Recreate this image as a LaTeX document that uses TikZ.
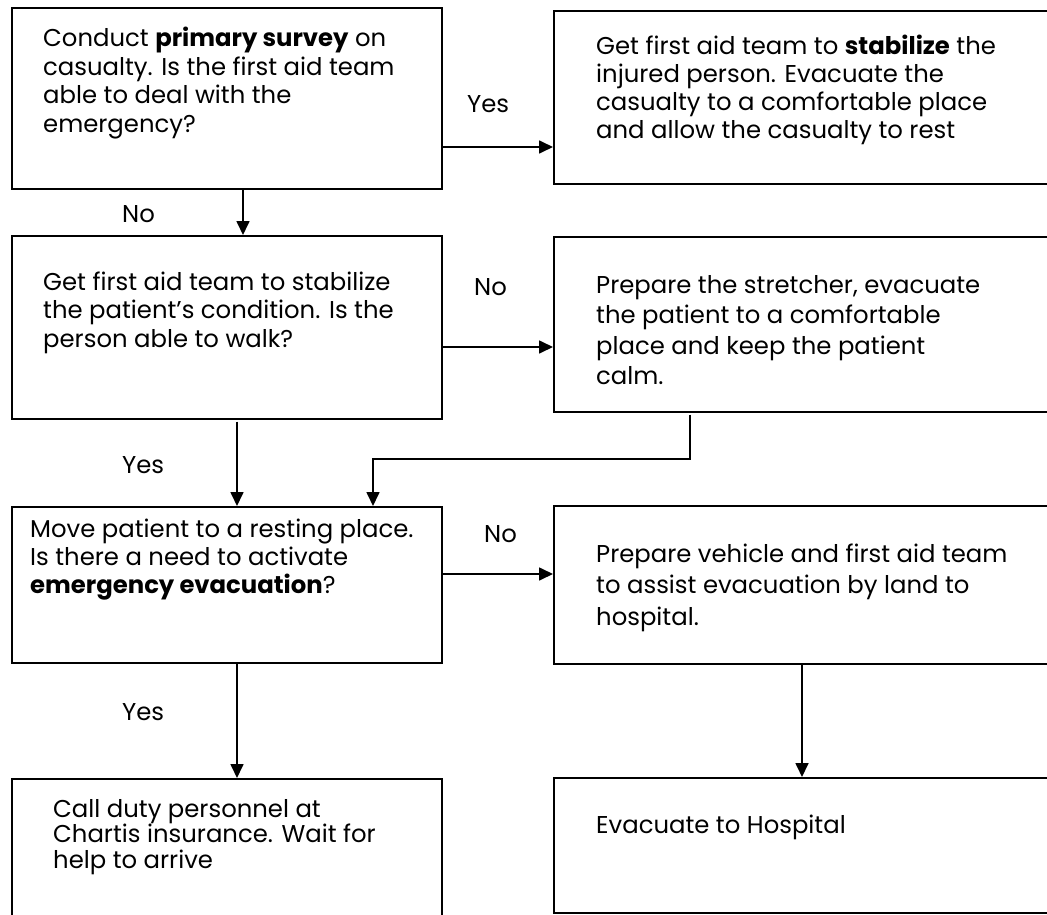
\documentclass[tikz,border=0pt]{standalone}
\usepackage{fontspec}
\setmainfont{Poppins}
\usetikzlibrary{arrows.meta}
\newlength\reflen
\tikzset{
  box/.style={draw=black, line width=1.7pt, anchor=north west, inner sep=0pt, minimum width=#1},
  box/.default=430pt,
  arr/.style={draw=black, line width=1.7pt, -{Triangle[length=14pt,width=13pt]}},
  txt/.style={anchor=base west, inner sep=0pt, align=left, font=\fontsize{\fs}{#1}\selectfont},
  lbl/.style={anchor=base west, inner sep=0pt, font=\fontsize{\fs}{20}\selectfont},
}
\begin{document}
\settowidth\reflen{\fontsize{20}{24}\selectfont Conduct \textbf{primary survey} on}%
\pgfmathsetmacro\fs{20*343/\reflen}%
\begin{tikzpicture}[x=1pt,y=-1pt]
\useasboundingbox (0,0) rectangle (1047,915);
\clip (0,0) rectangle (1047,915);
% boxes
\node[box, minimum height=180.5pt] (b1) at (11,7.5) {};
\node[box=497pt, minimum height=173pt] (b2) at (553,10) {};
\node[box, minimum height=183pt] (b3) at (11,235) {};
\node[box=497pt, minimum height=175pt] (b4) at (553,236) {};
\node[box, minimum height=156pt] (b5) at (11,506) {};
\node[box=497pt, minimum height=158pt] (b6) at (553,505) {};
\node[box, minimum height=160pt] (b7) at (11,778) {};
\node[box=497pt, minimum height=135pt] (b8) at (553,777) {};
% texts (anchored at the baseline of the last line)
\node[txt=28.5pt] (t1) at (43,132.2) {Conduct \textbf{primary survey} on\\casualty. Is the first aid team\\able to deal with the\\emergency?};
\node[txt=27.7pt] (t2) at (596,138.1) {Get first aid team to \textbf{stabilize} the\\injured person. Evacuate the\\casualty to a comfortable place\\and allow the casualty to rest};
\node[txt=28.5pt] (t3) at (43,347) {Get first aid team to stabilize\\the patient’s condition. Is the\\person able to walk?};
\node[txt=30.5pt] (t4) at (596,384.5) {Prepare the stretcher, evacuate\\the patient to a comfortable\\place and keep the patient\\calm.};
\node[txt=28pt] (t5) at (30,593) {Move patient to a resting place.\\Is there a need to activate\\\textbf{emergency evacuation}?};
\node[txt=31.5pt] (t6) at (596,625) {Prepare vehicle and first aid team\\to assist evacuation by land to\\hospital.};
\node[txt=25.5pt] (t7) at (53,868) {Call duty personnel at\\Chartis insurance. Wait for\\help to arrive};
\node[txt=28pt] (t8) at (596,833) {Evacuate to Hospital};
% labels
\node[lbl] (l1) at (467,113) {Yes};
\node[lbl] (l2) at (122,222) {No};
\node[lbl] (l3) at (474,295) {No};
\node[lbl] (l4) at (122,473) {Yes};
\node[lbl] (l5) at (484,542) {No};
\node[lbl] (l6) at (122,720) {Yes};
% connector guides
\coordinate (y1) at (0,147);
\coordinate (x1) at (243,0);
\coordinate (y2) at (0,347);
\coordinate (x2) at (237,0);
\coordinate (x4) at (690,0);
\coordinate (j) at (373,459);
\coordinate (y3) at (0,574);
\coordinate (x6) at (802,0);
% connectors
\draw[arr] (b1.east |- y1) -- (b2.west |- y1);
\draw[arr] (b1.south -| x1) -- (b3.north -| x1);
\draw[arr] (b3.east |- y2) -- (b4.west |- y2);
\draw[arr] ([yshift=-2pt]b3.south -| x2) -- (b5.north -| x2);
\draw[arr] ([yshift=-2pt]b4.south -| x4) |- (j) -- (b5.north -| j);
\draw[arr] (b5.east |- y3) -- (b6.west |- y3);
\draw[arr] (b5.south -| x2) -- (b7.north -| x2);
\draw[arr] (b6.south -| x6) -- (b8.north -| x6);
\end{tikzpicture}
\end{document}
